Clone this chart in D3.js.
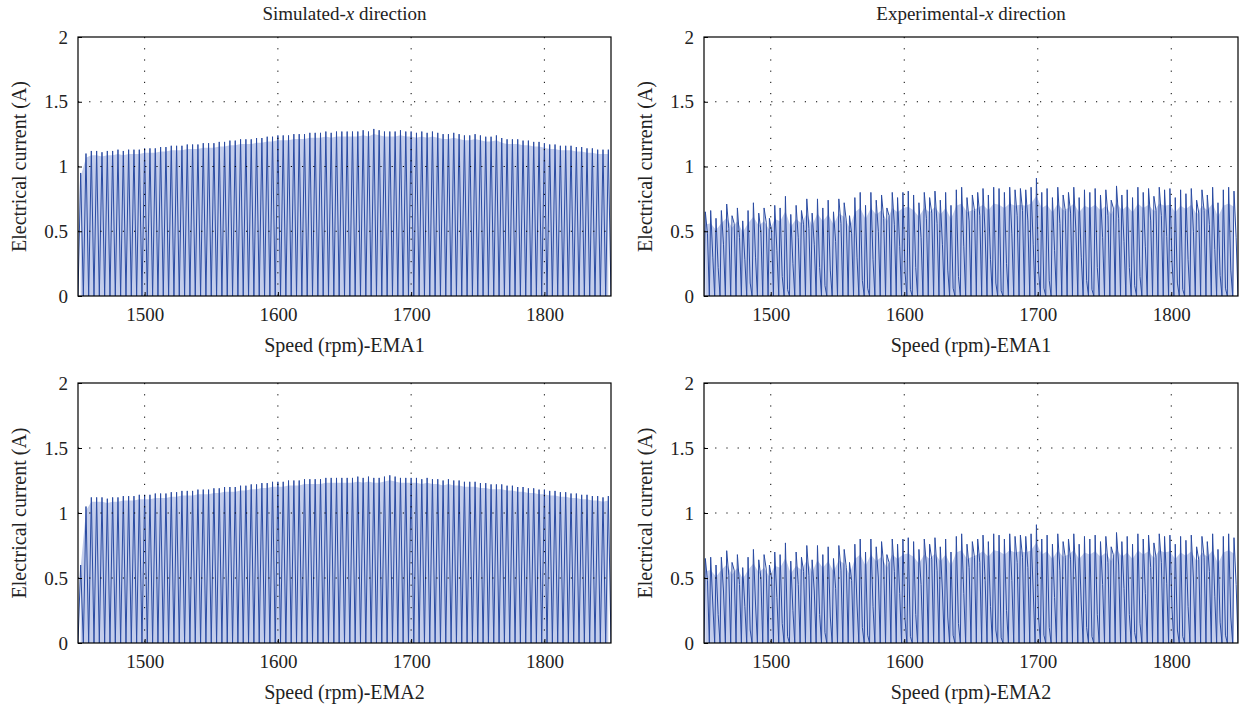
<!DOCTYPE html>
<html>
<head>
<meta charset="utf-8">
<script src="https://cdn.jsdelivr.net/npm/d3@7"></script>
<style>
  body { margin: 0; background: #fff; }
  svg text { font-family: 'Liberation Serif', 'DejaVu Serif', serif !important; fill: #222; }
</style>
</head>
<body>
<svg id="chart" width="1241" height="710"></svg>
<script>
// axis settings
const speedDomain = [1450, 1850];
const currentDomain = [0, 2];
const speedTicks = [1500, 1600, 1700, 1800];
const currentTicks = [0, 0.5, 1, 1.5, 2];
const currentTickLabels = ["0", "0.5", "1", "1.5", "2"];

// one current cycle every 4 rpm, starting at 1450 rpm
const speedStart = 1450;
const cycleStep = 4;

// simulated, peak of each cycle (A)
const simPeaksEMA1 = [
  0.95, 1.10, 1.12, 1.12, 1.11, 1.12, 1.12, 1.13, 1.12, 1.13,
  1.13, 1.13, 1.14, 1.14, 1.14, 1.15, 1.15, 1.16, 1.16, 1.16,
  1.17, 1.17, 1.17, 1.18, 1.18, 1.18, 1.19, 1.19, 1.20, 1.20,
  1.21, 1.21, 1.21, 1.22, 1.22, 1.23, 1.23, 1.24, 1.24, 1.24,
  1.25, 1.25, 1.25, 1.26, 1.26, 1.26, 1.27, 1.26, 1.27, 1.27,
  1.27, 1.27, 1.27, 1.28, 1.27, 1.29, 1.28, 1.27, 1.27, 1.27,
  1.28, 1.27, 1.27, 1.26, 1.27, 1.26, 1.27, 1.26, 1.25, 1.25,
  1.26, 1.25, 1.24, 1.24, 1.25, 1.24, 1.23, 1.23, 1.24, 1.22,
  1.21, 1.21, 1.21, 1.20, 1.20, 1.19, 1.19, 1.18, 1.17, 1.17,
  1.16, 1.16, 1.16, 1.15, 1.15, 1.14, 1.14, 1.13, 1.13, 1.13
];
const simPeaksEMA2 = [
  0.60, 1.05, 1.12, 1.12, 1.12, 1.11, 1.12, 1.12, 1.13, 1.13,
  1.13, 1.14, 1.14, 1.14, 1.15, 1.15, 1.15, 1.16, 1.16, 1.17,
  1.17, 1.17, 1.18, 1.18, 1.18, 1.19, 1.19, 1.20, 1.20, 1.20,
  1.21, 1.21, 1.22, 1.22, 1.23, 1.23, 1.24, 1.24, 1.24, 1.25,
  1.25, 1.25, 1.26, 1.26, 1.26, 1.26, 1.27, 1.27, 1.27, 1.27,
  1.27, 1.27, 1.28, 1.27, 1.28, 1.27, 1.27, 1.28, 1.29, 1.28,
  1.27, 1.27, 1.27, 1.27, 1.26, 1.27, 1.26, 1.26, 1.25, 1.26,
  1.25, 1.25, 1.24, 1.24, 1.24, 1.23, 1.23, 1.22, 1.22, 1.22,
  1.21, 1.21, 1.20, 1.20, 1.19, 1.19, 1.18, 1.18, 1.17, 1.17,
  1.16, 1.16, 1.15, 1.15, 1.14, 1.14, 1.13, 1.13, 1.12, 1.13
];

// experimental, main peak and inner dip of each cycle (A)
const expPeaks = [
  0.65, 0.66, 0.60, 0.66, 0.71, 0.62, 0.68, 0.58, 0.66, 0.72,
  0.64, 0.68, 0.60, 0.70, 0.68, 0.77, 0.63, 0.70, 0.66, 0.75,
  0.64, 0.75, 0.68, 0.74, 0.65, 0.75, 0.72, 0.62, 0.76, 0.80,
  0.70, 0.80, 0.74, 0.78, 0.68, 0.80, 0.76, 0.80, 0.81, 0.78,
  0.72, 0.80, 0.76, 0.81, 0.74, 0.80, 0.70, 0.82, 0.84, 0.76,
  0.78, 0.80, 0.83, 0.78, 0.84, 0.83, 0.80, 0.84, 0.82, 0.83,
  0.82, 0.84, 0.91, 0.80, 0.83, 0.76, 0.84, 0.78, 0.80, 0.84,
  0.76, 0.82, 0.80, 0.83, 0.78, 0.82, 0.74, 0.85, 0.78, 0.82,
  0.76, 0.84, 0.80, 0.83, 0.77, 0.84, 0.82, 0.83, 0.76, 0.82,
  0.79, 0.83, 0.74, 0.82, 0.78, 0.84, 0.72, 0.82, 0.84, 0.81
];
const expDips = [
  0.48, 0.30, 0.22, 0.40, 0.52, 0.56, 0.45, 0.28, 0.10, 0.30,
  0.50, 0.57, 0.50, 0.35, 0.15, 0.05, 0.25, 0.45, 0.55, 0.52,
  0.40, 0.22, 0.08, 0.20, 0.42, 0.56, 0.58, 0.48, 0.30, 0.12,
  0.06, 0.28, 0.50, 0.60, 0.62, 0.55, 0.38, 0.18, 0.05, 0.22,
  0.45, 0.60, 0.64, 0.56, 0.40, 0.20, 0.06, 0.15, 0.38, 0.58,
  0.66, 0.62, 0.48, 0.28, 0.10, 0.04, 0.25, 0.48, 0.62, 0.66,
  0.58, 0.40, 0.20, 0.06, 0.12, 0.35, 0.56, 0.66, 0.64, 0.50,
  0.30, 0.12, 0.05, 0.22, 0.45, 0.62, 0.68, 0.60, 0.42, 0.22,
  0.08, 0.15, 0.38, 0.58, 0.66, 0.62, 0.46, 0.26, 0.10, 0.05,
  0.28, 0.50, 0.64, 0.66, 0.55, 0.36, 0.16, 0.06, 0.20, 0.45
];

const panels = [
  { box: [78, 611, 37, 296], title: "Simulated-", xlabel: "Speed (rpm)-EMA1", kind: "sim", peaks: simPeaksEMA1 },
  { box: [704, 1238, 37, 296], title: "Experimental-", xlabel: "Speed (rpm)-EMA1", kind: "exp", peaks: expPeaks, dips: expDips },
  { box: [78, 611, 383, 643], title: null, xlabel: "Speed (rpm)-EMA2", kind: "sim", peaks: simPeaksEMA2 },
  { box: [704, 1238, 383, 643], title: null, xlabel: "Speed (rpm)-EMA2", kind: "exp", peaks: expPeaks, dips: expDips }
];

const svg = d3.select("#chart");
const serif = "'Liberation Serif', 'DejaVu Serif', serif";
const lineColor = "#2a4ba2";
const tintColor = "#c3cdeb";

panels.forEach((p, k) => {
  const [left, right, top, bottom] = p.box;
  const x = d3.scaleLinear().domain(speedDomain).range([left, right]);
  const y = d3.scaleLinear().domain(currentDomain).range([bottom, top]);
  const g = svg.append("g");

  // build the waveform points cycle by cycle
  const pts = [];
  const env = [];
  p.peaks.forEach((pk, i) => {
    const s0 = speedStart + i * cycleStep;
    if (p.kind === "sim") {
      pts.push([s0, 0], [s0 + cycleStep / 2, pk]);
      env.push([s0 + cycleStep / 2, pk * 0.97]);
    } else {
      pts.push([s0, 0], [s0 + 1, pk], [s0 + 2.6, p.dips[i]]);
      env.push([s0 + 1, pk * 0.85]);
    }
  });
  pts.push([speedDomain[1], 0]);

  const clipId = "clip" + k;
  g.append("clipPath").attr("id", clipId)
    .append("rect")
    .attr("x", left).attr("y", top)
    .attr("width", right - left).attr("height", bottom - top);

  // light tint that the dense signal leaves under its envelope
  g.append("path")
    .datum(env)
    .attr("clip-path", `url(#${clipId})`)
    .attr("fill", tintColor)
    .attr("d", d3.area().x(d => x(d[0])).y0(y(0)).y1(d => y(d[1])));

  g.append("path")
    .datum(pts)
    .attr("clip-path", `url(#${clipId})`)
    .attr("fill", "none")
    .attr("stroke", lineColor)
    .attr("stroke-width", 1)
    .attr("d", d3.line().x(d => x(d[0])).y(d => y(d[1])));

  // dotted grid
  g.selectAll(".vgrid").data(speedTicks).enter().append("line")
    .attr("x1", d => x(d)).attr("x2", d => x(d))
    .attr("y1", top).attr("y2", bottom)
    .attr("stroke", "#000").attr("stroke-width", 1)
    .attr("stroke-dasharray", "1.2,10");
  g.selectAll(".hgrid").data(currentTicks.slice(1, -1)).enter().append("line")
    .attr("x1", left).attr("x2", right)
    .attr("y1", d => y(d)).attr("y2", d => y(d))
    .attr("stroke", "#000").attr("stroke-width", 1)
    .attr("stroke-dasharray", "1.2,10");

  // axes with inward ticks
  const xAxis = d3.axisBottom(x).tickValues(speedTicks).tickFormat(d3.format("d"))
    .tickSizeInner(-4).tickSizeOuter(0).tickPadding(12);
  const yAxis = d3.axisLeft(y).tickValues(currentTicks).tickFormat((d, i) => currentTickLabels[i])
    .tickSizeInner(-4).tickSizeOuter(0).tickPadding(10);

  const gx = g.append("g").attr("transform", `translate(0,${bottom})`).call(xAxis);
  const gy = g.append("g").attr("transform", `translate(${left},0)`).call(yAxis);
  [gx, gy].forEach(a => {
    a.attr("font-family", serif).attr("font-size", 19);
    a.select(".domain").remove();
    a.selectAll("text").attr("fill", "#222");
    a.selectAll("line").attr("stroke", "#000");
  });

  g.append("rect")
    .attr("x", left).attr("y", top)
    .attr("width", right - left).attr("height", bottom - top)
    .attr("fill", "none").attr("stroke", "#000").attr("stroke-width", 1.2);

  const cx = (left + right) / 2;
  g.append("text")
    .attr("x", cx).attr("y", bottom + 56)
    .attr("text-anchor", "middle")
    .attr("font-family", serif).attr("font-size", 20)
    .text(p.xlabel);

  g.append("text")
    .attr("transform", `translate(${left - 52},${(top + bottom) / 2}) rotate(-90)`)
    .attr("text-anchor", "middle")
    .attr("font-family", serif).attr("font-size", 20)
    .text("Electrical current (A)");

  if (p.title) {
    const t = g.append("text")
      .attr("x", cx).attr("y", 20)
      .attr("text-anchor", "middle")
      .attr("font-family", serif).attr("font-size", 19);
    t.append("tspan").text(p.title);
    t.append("tspan").attr("font-style", "italic").text("x");
    t.append("tspan").text(" direction");
  }
});
</script>
</body>
</html>
